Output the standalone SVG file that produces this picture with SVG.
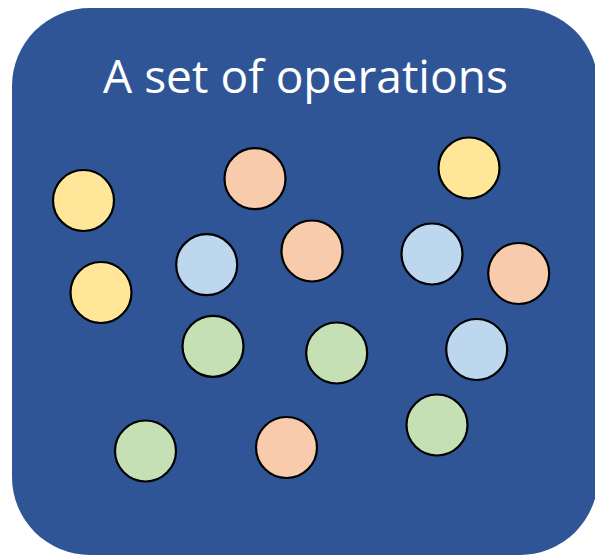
<svg xmlns="http://www.w3.org/2000/svg" width="595" height="556" viewBox="0 0 595 556">
<style>
.box{fill:#2F5597}
.op{stroke:#000;stroke-width:2.2}
.y{fill:#FFE699}.o{fill:#F8CBAD}.b{fill:#BDD7EE}.g{fill:#C5E0B4}
.t{font-family:"Open Sans","Liberation Sans",sans-serif;font-size:45px;fill:#fff}
</style>
<rect width="595" height="556" fill="#fff"/>
<g id="set">
<rect class="box" x="12" y="8" width="586" height="547" rx="78" ry="78"/>
<text class="t" x="305.5" y="93" text-anchor="middle" textLength="405" lengthAdjust="spacingAndGlyphs">A set of operations</text>
</g>
<g id="op-y1"><circle class="op y" cx="83.5" cy="200.5" r="30.5"/></g>
<g id="op-y2"><circle class="op y" cx="101" cy="292.5" r="30.5"/></g>
<g id="op-y3"><circle class="op y" cx="469" cy="168" r="30.5"/></g>
<g id="op-o1"><circle class="op o" cx="255" cy="178.7" r="30.5"/></g>
<g id="op-o2"><circle class="op o" cx="312" cy="251" r="30.5"/></g>
<g id="op-o3"><circle class="op o" cx="518.7" cy="273.5" r="30.5"/></g>
<g id="op-o4"><circle class="op o" cx="286.5" cy="447.5" r="30.5"/></g>
<g id="op-b1"><circle class="op b" cx="206.7" cy="264.7" r="30.5"/></g>
<g id="op-b2"><circle class="op b" cx="432" cy="254" r="30.5"/></g>
<g id="op-b3"><circle class="op b" cx="476.7" cy="349.5" r="30.5"/></g>
<g id="op-g1"><circle class="op g" cx="213" cy="346.3" r="30.5"/></g>
<g id="op-g2"><circle class="op g" cx="336.7" cy="353" r="30.5"/></g>
<g id="op-g3"><circle class="op g" cx="437" cy="425" r="30.5"/></g>
<g id="op-g4"><circle class="op g" cx="145.5" cy="451" r="30.5"/></g>
<g id="connectors"></g>
</svg>
